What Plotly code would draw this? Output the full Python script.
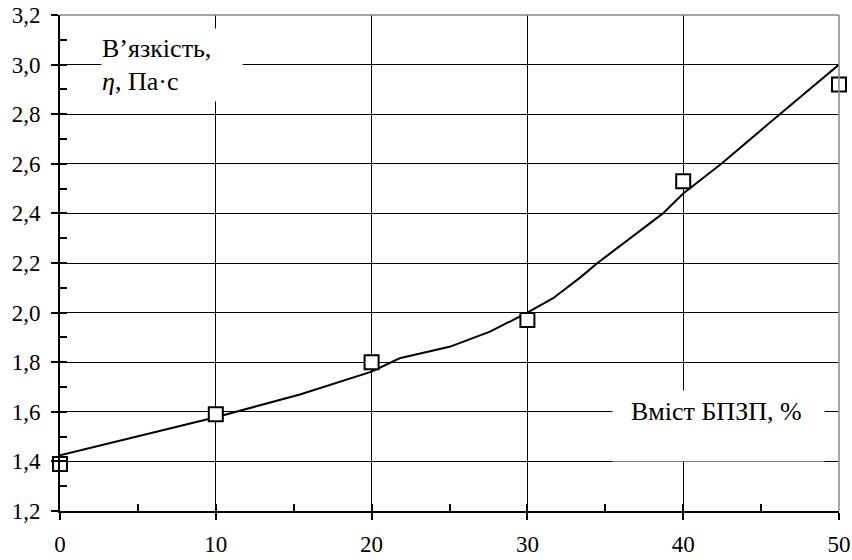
import plotly.graph_objects as go

# Measured viscosity vs. filler content
content = [0, 10, 20, 30, 40, 50]
viscosity = [1.39, 1.59, 1.80, 1.97, 2.53, 2.92]

# Approximating curve
curve_x = [0, 5, 10, 15.4, 20, 21.8, 25, 27.6, 30, 31.65, 32.5, 33.4, 34.5, 38.7, 40, 42.45, 46.2, 50]
curve_y = [1.425, 1.50, 1.578, 1.67, 1.762, 1.816, 1.862, 1.923, 2.0, 2.058, 2.098, 2.142, 2.2, 2.4, 2.48, 2.6, 2.8, 3.0]

x_range = [0, 50]
y_range = [1.2, 3.2]

FONT = "Liberation Serif"
TICK_SIZE = 23
LABEL_SIZE = 26

fig = go.Figure()

fig.add_trace(go.Scatter(x=curve_x, y=curve_y, mode="lines",
                         line=dict(color="black", width=2), showlegend=False,
                         hoverinfo="skip"))
fig.add_trace(go.Scatter(x=content, y=viscosity, mode="markers",
                         marker=dict(symbol="square", size=14, color="white",
                                     line=dict(color="black", width=2)),
                         showlegend=False, cliponaxis=False))
# invisible trace to anchor the overlay axes (inside ticks)
fig.add_trace(go.Scatter(x=x_range, y=y_range, xaxis="x2", yaxis="y2",
                         mode="markers", marker=dict(opacity=0),
                         showlegend=False, hoverinfo="skip"))

fig.update_layout(
    width=852, height=560,
    margin=dict(l=59.5, r=12.5, t=15, b=49, autoexpand=False),
    paper_bgcolor="white", plot_bgcolor="white",
    separators=", ",
    font=dict(family=FONT, size=TICK_SIZE, color="black"),
    xaxis=dict(range=x_range, dtick=10, tick0=0, showgrid=True,
               gridcolor="black", gridwidth=1, zeroline=False,
               showline=True, linecolor="black", linewidth=2,
               ticks="outside", ticklen=7, tickwidth=2, tickcolor="black",
               ticklabelstandoff=4, automargin=False,
               tickfont=dict(family=FONT, size=TICK_SIZE)),
    yaxis=dict(range=y_range, dtick=0.2, tick0=1.2, tickformat=".1f",
               showgrid=True, gridcolor="black", gridwidth=1, zeroline=False,
               showline=True, linecolor="black", linewidth=2,
               ticks="outside", ticklen=7, tickwidth=2, tickcolor="black",
               ticklabelstandoff=6, automargin=False,
               tickfont=dict(family=FONT, size=TICK_SIZE)),
    xaxis2=dict(range=x_range, overlaying="x", anchor="y2", side="bottom",
                dtick=10, tick0=0, showgrid=False, zeroline=False,
                showticklabels=False, ticks="inside", ticklen=7, tickwidth=2,
                tickcolor="black", automargin=False,
                minor=dict(dtick=5, ticks="inside", ticklen=7, tickwidth=2,
                           tickcolor="black", showgrid=False)),
    yaxis2=dict(range=y_range, overlaying="y", anchor="x2", side="left",
                dtick=0.2, tick0=1.2, showgrid=False, zeroline=False,
                showticklabels=False, ticks="inside", ticklen=7, tickwidth=2,
                tickcolor="black", automargin=False,
                minor=dict(dtick=0.1, ticks="inside", ticklen=7, tickwidth=2,
                           tickcolor="black", showgrid=False)),
    shapes=[
        dict(type="line", xref="paper", yref="paper", x0=0, x1=1, y0=1, y1=1,
             line=dict(color="#888888", width=1.5)),
        dict(type="line", xref="paper", yref="paper", x0=1, x1=1, y0=0, y1=1,
             line=dict(color="#888888", width=1.5)),
    ],
    annotations=[
        # y-axis title on a white patch
        dict(xref="paper", yref="paper", x=0.052, y=0.974,
             xanchor="left", yanchor="top", width=140, height=72,
             align="left", valign="middle", bgcolor="white", borderpad=0,
             showarrow=False,
             text="В’язкість,<br><i>η</i>, Па·с",
             font=dict(family=FONT, size=LABEL_SIZE)),
        # white patch behind the x-axis title
        dict(xref="paper", yref="paper", x=0.708, y=0.244,
             xanchor="left", yanchor="top", width=211, height=70,
             bgcolor="white", borderpad=0, showarrow=False, text=" ",
             font=dict(size=4)),
        # x-axis title
        dict(xref="paper", yref="paper", x=0.843, y=0.200,
             xanchor="center", yanchor="middle",
             showarrow=False, text="Вміст БПЗП, %",
             font=dict(family=FONT, size=LABEL_SIZE)),
    ],
)

fig.write_html("out.html")
